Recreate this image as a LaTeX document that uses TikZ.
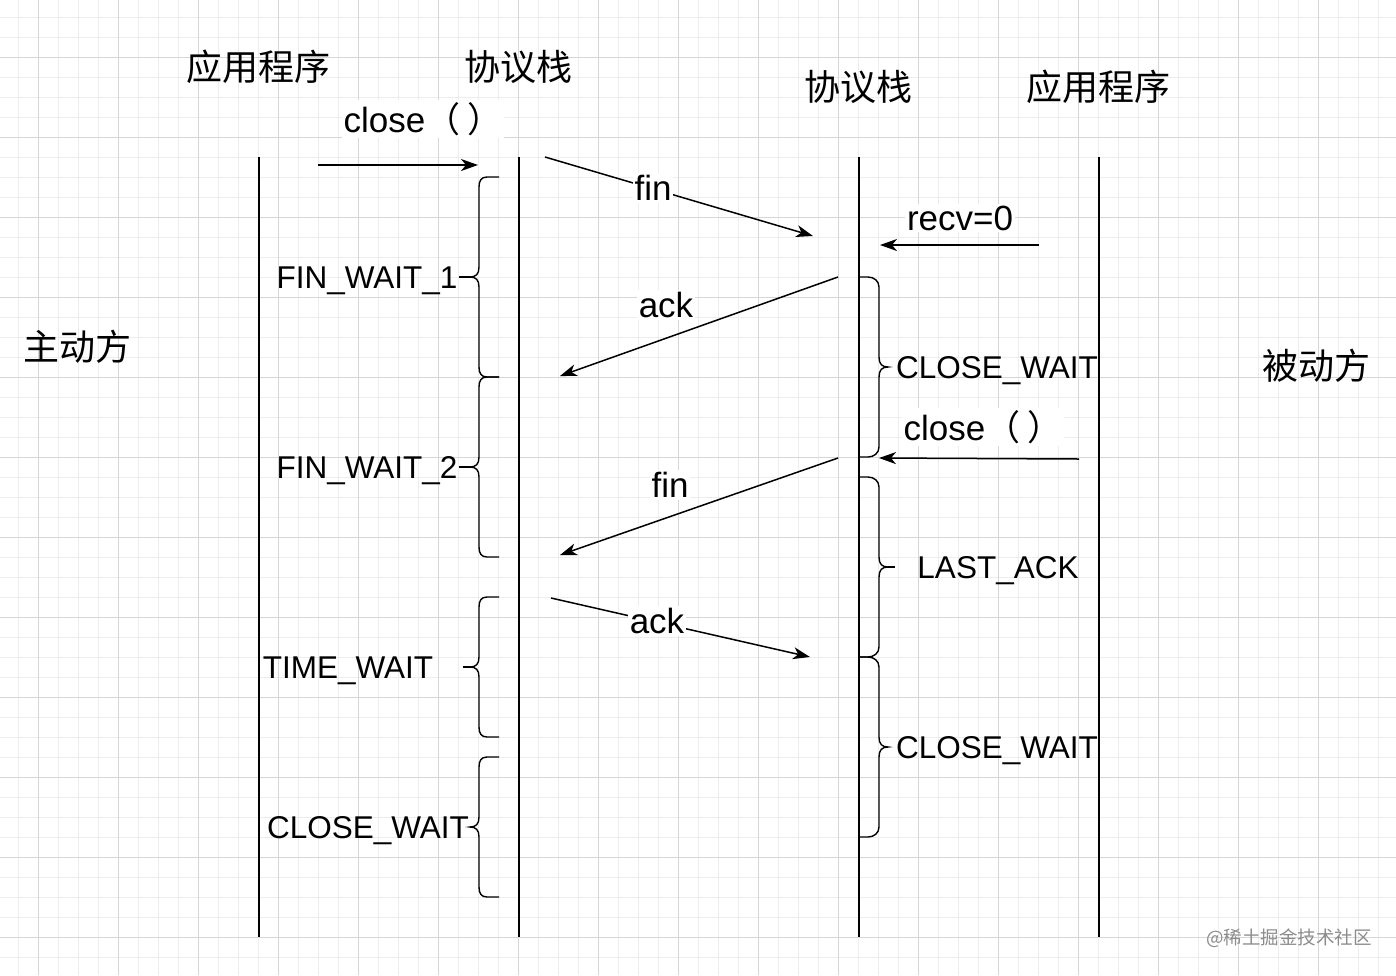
\documentclass[tikz,border=0pt]{standalone}
\usepackage{fontspec}
\setmainfont{Liberation Sans}
\newfontfamily\cjk{Noto Sans CJK SC}
\usetikzlibrary{arrows.meta}
\tikzset{
  gridminor/.style={draw=black!7,line width=0.8pt},
  gridmajor/.style={draw=black!16,line width=0.9pt},
  life/.style={line width=1.8pt,line cap=butt},
  msg/.style={line width=1.5pt,-{Stealth[length=17pt,width=12pt,inset=5pt]}},
  bracepath/.style={line width=1.4pt},
  msglabel/.style={fill=white,inner sep=2pt,font=\fontsize{35}{40}\selectfont},
  statelabel/.style={inner sep=0pt,anchor=base,font=\fontsize{31.5}{36}\selectfont},
  cjklabel/.style={inner sep=0pt,font=\cjk\fontsize{36}{42}\selectfont},
}
\newcommand{\myleftbr}[4]{% xend, top, bottom, mid
  \draw[bracepath] (#1,#2) -- (#1-12,#2) .. controls (#1-18,#2) and (#1-20,#2+4) .. (#1-20,#2+10)
    -- (#1-20,#4-10) .. controls (#1-20,#4-3) and (#1-23,#4) .. (#1-29,#4)
    .. controls (#1-23,#4) and (#1-20,#4+3) .. (#1-20,#4+10)
    -- (#1-20,#3-10) .. controls (#1-20,#3-4) and (#1-18,#3) .. (#1-12,#3) -- (#1,#3);}
\newcommand{\myrightbr}[4]{% xstart, top, bottom, mid
  \draw[bracepath] (#1,#2) -- (#1+8,#2) .. controls (#1+14,#2) and (#1+19,#2+4) .. (#1+19,#2+10)
    -- (#1+19,#4-10) .. controls (#1+19,#4-3) and (#1+22,#4) .. (#1+28,#4)
    .. controls (#1+22,#4) and (#1+19,#4+3) .. (#1+19,#4+10)
    -- (#1+19,#3-10) .. controls (#1+19,#3-4) and (#1+14,#3) .. (#1+8,#3) -- (#1,#3);}
\begin{document}
\begin{tikzpicture}[x=1pt,y=-1pt]
\useasboundingbox (0,0) rectangle (1396,975);
\fill[white] (0,0) rectangle (1396,975);
% grid
\foreach \x in {18,38,...,1396} \draw[gridminor] (\x,0) -- (\x,975);
\foreach \y in {17,37,...,975} \draw[gridminor] (0,\y) -- (1396,\y);
\foreach \x in {38,118,...,1396} \draw[gridmajor] (\x,0) -- (\x,975);
\foreach \y in {57,137,...,975} \draw[gridmajor] (0,\y) -- (1396,\y);

% headers
\node[cjklabel] (appL) at (258,67) {应用程序};
\node[cjklabel] (stkL) at (518,67) {协议栈};
\node[cjklabel] (stkR) at (858,87) {协议栈};
\node[cjklabel] (appR) at (1098,87) {应用程序};
\node[cjklabel] (active) at (77,347) {主动方};
\node[cjklabel] (passive) at (1316,366) {被动方};

% lifelines
\coordinate (l1t) at (259,157); \coordinate (l1b) at (259,937);
\coordinate (l2t) at (519,157); \coordinate (l2b) at (519,937);
\coordinate (l3t) at (859,157); \coordinate (l3b) at (859,937);
\coordinate (l4t) at (1099,157); \coordinate (l4b) at (1099,937);
\draw[life] (l1t) -- (l1b);
\draw[life] (l2t) -- (l2b);
\draw[life] (l3t) -- (l3b);
\draw[life] (l4t) -- (l4b);

% braces
\myleftbr{499}{177}{377}{277}
\myleftbr{499}{377}{557}{467}
\myleftbr{499}{597}{737}{667}
\myleftbr{499}{757}{897}{827}
\myrightbr{860}{277}{457}{367}
\myrightbr{860}{477}{657}{567}
\myrightbr{860}{657}{837}{747}

% state labels
\node[statelabel] (fw1) at (367,288) {FIN\_WAIT\_1};
\node[statelabel] (fw2) at (367,478) {FIN\_WAIT\_2};
\node[statelabel] (tw) at (348,678) {TIME\_WAIT};
\node[statelabel] (cwL) at (368,838) {CLOSE\_WAIT};
\node[statelabel] (cw1) at (997,378) {CLOSE\_WAIT};
\node[statelabel] (la) at (998,578) {LAST\_ACK};
\node[statelabel] (cw2) at (997,758) {CLOSE\_WAIT};
\coordinate (fw1e) at (459,277); \coordinate (fw2e) at (459,467);
\draw[bracepath] (fw1e) -- (470,277);
\draw[bracepath] (fw2e) -- (470,467);
\draw[bracepath] (463,667) -- (470,667);
\draw[bracepath] (888,567) -- (895,567);

% messages
\coordinate (c1s) at (318,165); \coordinate (c1e) at (478,165);
\coordinate (f1s) at (545,157); \coordinate (f1e) at (813,236);
\coordinate (r0s) at (1039,245); \coordinate (r0e) at (880,245);
\coordinate (a1s) at (838,277); \coordinate (a1e) at (560,376);
\coordinate (c2s) at (1079,459); \coordinate (c2e) at (879,458);
\coordinate (f2s) at (838,458); \coordinate (f2e) at (560,555);
\coordinate (a2s) at (551,598); \coordinate (a2e) at (810,657);
\draw[msg] (c1s) -- (c1e);
\draw[msg] (f1s) -- (f1e);
\draw[msg] (r0s) -- (r0e);
\draw[msg] (a1s) -- (a1e);
\draw[msg] (c2s) -- (c2e);
\draw[msg] (f2s) -- (f2e);
\draw[msg] (a2s) -- (a2e);

\node[msglabel] (lc1) at (423,119) {close{\cjk（\kern7pt）}};
\node[msglabel] (lf1) at (653,188) {fin};
\node[msglabel] (lr0) at (960,218) {recv=0};
\node[msglabel] (la1) at (666,305) {ack};
\node[msglabel] (lc2) at (983,427) {close{\cjk（\kern7pt）}};
\node[msglabel] (lf2) at (670,485) {fin};
\node[msglabel] (la2) at (657,621) {ack};

% watermark
\node[inner sep=0pt,text=black!45,font=\cjk\fontsize{18.5}{22}\selectfont] (wm) at (1289,938) {@稀土掘金技术社区};
\end{tikzpicture}
\end{document}
